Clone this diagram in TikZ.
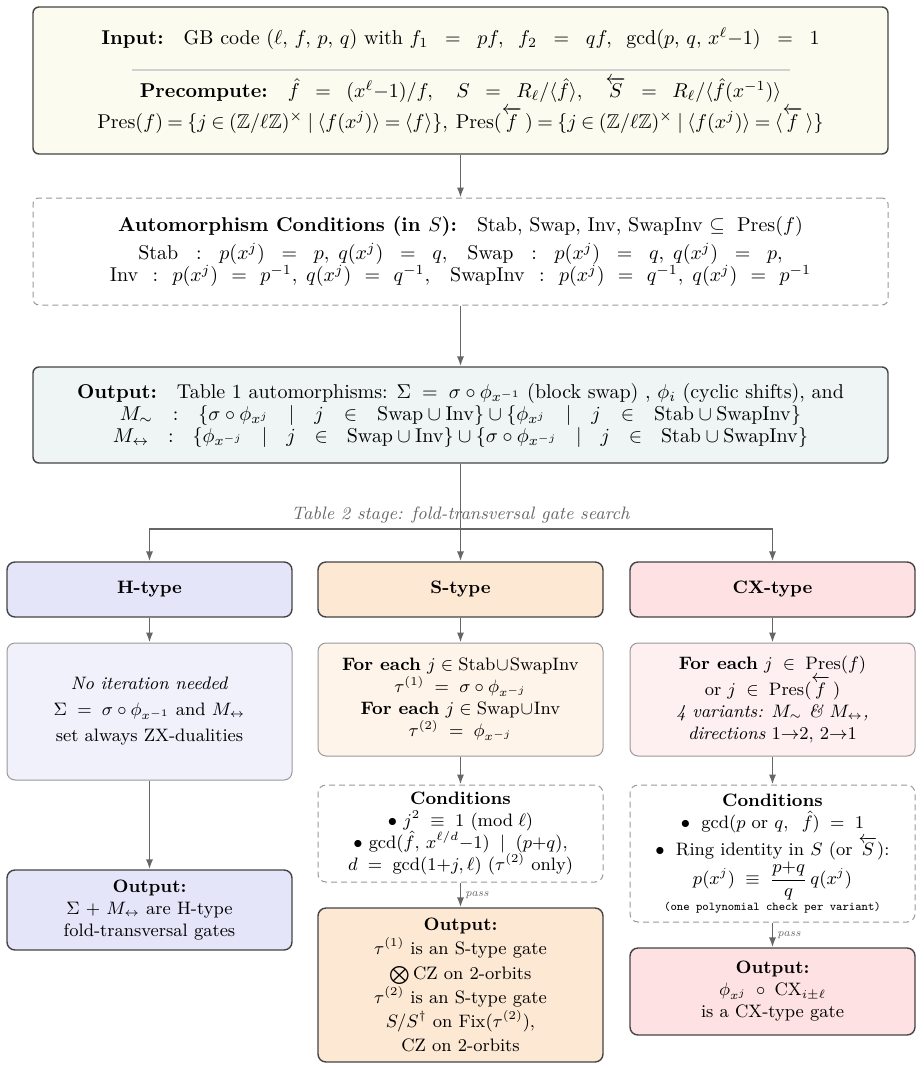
\documentclass[tikz,border=0pt]{standalone}
\usepackage{amsmath,amssymb}
\usetikzlibrary{arrows.meta,calc}
\newcommand{\myg}[1]{\mkern#1mu}
\definecolor{topfill}{HTML}{FBFBF0}
\definecolor{outfill}{HTML}{EEF5F4}
\definecolor{hhead}{HTML}{E5E5FA}
\definecolor{hbody}{HTML}{F1F1FC}
\definecolor{shead}{HTML}{FDE8D4}
\definecolor{sbody}{HTML}{FEF4EA}
\definecolor{cxhead}{HTML}{FDE1E3}
\definecolor{cxbody}{HTML}{FEF0F1}
\definecolor{darkbd}{HTML}{444444}
\definecolor{lightbd}{HTML}{999999}
\definecolor{arrowc}{HTML}{666666}
\tikzset{
  mainbox/.style={draw=darkbd, line width=0.7pt, rounded corners=3pt, align=flush center,
    minimum width=427.5pt, text width=420pt, inner sep=0pt, font=\fontsize{10}{12}\selectfont},
  dashbox/.style={draw=lightbd, line width=0.5pt, dash pattern=on 3pt off 2pt, rounded corners=3pt,
    fill=white, align=flush center, minimum width=427.5pt, text width=420pt, inner sep=0pt,
    font=\fontsize{10}{12}\selectfont},
  headbox/.style={draw=darkbd, line width=0.7pt, rounded corners=4pt, align=flush center,
    minimum width=142.5pt, minimum height=27.5pt, text width=138pt, inner sep=0pt,
    font=\small\bfseries},
  bodybox/.style={draw=lightbd, line width=0.5pt, rounded corners=4pt, align=flush center,
    minimum width=142.5pt, text width=138pt, inner sep=0pt, font=\small},
  condbox/.style={draw=lightbd, line width=0.5pt, dash pattern=on 3pt off 2pt, rounded corners=4pt,
    fill=white, align=flush center, minimum width=142.5pt, text width=138pt, inner sep=0pt, font=\small},
  resbox/.style={draw=darkbd, line width=0.7pt, rounded corners=4pt, align=flush center,
    minimum width=142.5pt, text width=138pt, inner sep=0pt, font=\small},
  flow/.style={draw=arrowc, line width=0.8pt, -{Latex[length=5pt,width=3.6pt]}},
  passlbl/.style={font=\fontsize{5.5}{6}\selectfont\itshape, text=arrowc, inner sep=2pt, anchor=west},
  stagelbl/.style={font=\small\itshape, text=arrowc, inner sep=0pt},
  sepline/.style={draw=black!18, line width=0.6pt}
}
\begin{document}
\begin{tikzpicture}[x=0.5pt,y=-0.5pt]
\useasboundingbox (0,0) rectangle (923,1070);

% top box
\node[mainbox, fill=topfill, minimum height=73.5pt] (top) at (460.5,80.5) {%
\textbf{Input:}\quad GB code $(\ell,\,f,\,p,\,q)$ with $f_1 \myg{10}=\myg{10} pf,\;\; f_2 \myg{10}=\myg{10} qf,\;\; \gcd(p,\,q,\,x^{\ell}{-}1) \myg{10}=\myg{10} 1$\\[12.5pt]
\textbf{Precompute:}\quad $\hat f \myg{9}=\myg{9} (x^{\ell}{-}1)/f,\quad S \myg{9}=\myg{9} R_\ell/\langle \hat f\rangle,\quad \overleftarrow{S} \myg{9}=\myg{9} R_\ell/\langle \hat f(x^{-1})\rangle$\\[1pt]
$\thickmuskip=4mu \mathrm{Pres}(f) = \{j \in (\mathbb{Z}/\ell\mathbb{Z})^{\times} \mid \langle f(x^j)\rangle = \langle f\rangle\},\; \mathrm{Pres}(\overleftarrow{f}\,) = \{j \in (\mathbb{Z}/\ell\mathbb{Z})^{\times} \mid \langle f(x^j)\rangle = \langle \overleftarrow{f}\,\rangle\}$};
\draw[sepline] (132,70) -- (790,70);

% automorphism conditions
\node[dashbox, minimum height=53.5pt] (auto) at (460.5,251.5) {%
\textbf{Automorphism Conditions (in $S$):}\quad Stab, Swap, Inv, SwapInv $\subseteq\;$ Pres$(f)$\\[2pt]
Stab $\myg{10}:\myg{10}$ $p(x^j) \myg{10}=\myg{10} p,\; q(x^j) \myg{10}=\myg{10} q,$\quad Swap $\myg{10}:\myg{10}$ $p(x^j) \myg{10}=\myg{10} q,\; q(x^j) \myg{10}=\myg{10} p,$\\[-1pt]
Inv $\myg{7}:\myg{7}$ $p(x^j) \myg{7}=\myg{7} p^{-1},\; q(x^j) \myg{7}=\myg{7} q^{-1},$\quad SwapInv $\myg{7}:\myg{7}$ $p(x^j) \myg{7}=\myg{7} q^{-1},\; q(x^j) \myg{7}=\myg{7} p^{-1}$};

% output table 1
\node[mainbox, fill=outfill, minimum height=48pt] (out) at (460.5,415) {%
\textbf{Output:}\quad Table 1 automorphisms: $\Sigma \;=\; \sigma\circ\phi_{x^{-1}}$ (block swap) , $\phi_i$ (cyclic shifts), and\\[-1pt]
$M_\sim \myg{13}:\myg{13} \{\sigma\circ\phi_{x^j} \myg{13}\mid\myg{13} j \myg{13}\in\myg{13} \mathrm{Swap}\cup\mathrm{Inv}\} \cup \{\phi_{x^j} \myg{13}\mid\myg{13} j\myg{13}\in\myg{13} \mathrm{Stab}\cup\mathrm{SwapInv}\}$\\[-1pt]
$M_\leftrightarrow \myg{12}:\myg{12} \{\phi_{x^{-j}} \myg{12}\mid\myg{12} j \myg{12}\in\myg{12} \mathrm{Swap}\cup\mathrm{Inv}\} \cup \{\sigma\circ\phi_{x^{-j}} \myg{12}\mid\myg{12} j \myg{12}\in\myg{12} \mathrm{Stab}\cup\mathrm{SwapInv}\}$};

% headers
\node[headbox, fill=hhead] (hh) at (149.5,589.5) {H-type};
\node[headbox, fill=shead] (sh) at (460.5,589.5) {S-type};
\node[headbox, fill=cxhead] (ch) at (772.5,589.5) {CX-type};

% bodies
\node[bodybox, fill=hbody, minimum height=68.5pt] (hb) at (149.5,711.5) {%
\textit{No iteration needed}\\[2pt]
$\Sigma \;=\; \sigma\circ\phi_{x^{-1}}$ and $M_\leftrightarrow$\\[2pt]
set always ZX-dualities};
\node[bodybox, fill=sbody, minimum height=56.5pt] (sb) at (460.5,699.5) {%
\textbf{For each} $j\in\mathrm{Stab}\!\cup\!\mathrm{SwapInv}$\\
$\tau^{(1)} \;=\; \sigma\circ\phi_{x^{-j}}$\\
\textbf{For each} $j\in\mathrm{Swap}\!\cup\!\mathrm{Inv}$\\
$\tau^{(2)} \;=\; \phi_{x^{-j}}$};
\node[bodybox, fill=cxbody, minimum height=56.5pt] (cb) at (772.5,699.5) {%
\textbf{For each} $j \;\in\; \mathrm{Pres}(f)$\\
or $j \;\in\; \mathrm{Pres}(\overleftarrow{f}\,)$\\
\textit{4 variants: $M_\sim$ \& $M_\leftrightarrow$,}\\
\textit{directions} $1{\to}2$, $2{\to}1$};

% conditions
\node[condbox, minimum height=48.5pt] (sc) at (460.5,833.5) {%
\textbf{Conditions}\\
$\bullet$~$j^2 \;\equiv\; 1$ $(\mathrm{mod}\;\ell)$\\
$\bullet$~$\gcd(\hat f,\,x^{\ell/d}{-}1) \;\mid\; (p{+}q)$,\\
$d \;=\; \gcd(1{+}j,\ell)$ ($\tau^{(2)}$ only)};
\node[condbox, minimum height=68.5pt] (cc) at (772.5,853.5) {%
\textbf{Conditions}\\
$\bullet$\; $\gcd(p \text{ or } q,\;\; \hat f) \;=\; 1$\\[1pt]
$\bullet$\; Ring identity in $S$ (or $\overleftarrow{S}$):\\
$p(x^j) \;\equiv\; \dfrac{p{+}q}{q}\,q(x^j)$\\
{\ttfamily\fontsize{6}{7}\selectfont (one polynomial check per variant)}};

% outputs
\node[resbox, fill=hhead, minimum height=40pt] (ho) at (149.5,910) {%
\textbf{Output:}\\
$\Sigma$ + $M_\leftrightarrow$ are H-type\\
fold-transversal gates};
\node[resbox, fill=shead, minimum height=77pt] (so) at (460.5,985) {%
\textbf{Output:}\\[1pt]
$\tau^{(1)}$ is an S-type gate\\[1.5pt]
$\bigotimes$\,CZ on 2-orbits\\[1pt]
$\tau^{(2)}$ is an S-type gate\\[1pt]
$S/S^{\dagger}$ on Fix$(\tau^{(2)})$,\\[1pt]
CZ on 2-orbits};
\node[resbox, fill=cxhead, minimum height=43.5pt] (co) at (772.5,991.5) {%
\textbf{Output:}\\
$\phi_{x^j} \;\circ\; \mathrm{CX}_{i\pm\ell}$\\
is a CX-type gate};

% stage label and connectors
\node[stagelbl] (stage) at (460.5,515) {Table 2 stage: fold-transversal gate search};
\coordinate (split) at (460.5,529);

\draw[flow] (top) -- (auto);
\draw[flow] (auto) -- (out);
\draw[flow] (out) -- (sh);
\draw[flow] (split) -| (hh);
\draw[flow] (split) -| (ch);

\draw[flow] (hh) -- (hb);
\draw[flow] (sh) -- (sb);
\draw[flow] (ch) -- (cb);

\draw[flow] (hb) -- (ho);
\draw[flow] (sb) -- (sc);
\draw[flow] (cb) -- (cc);

\draw[flow] (sc) -- node[passlbl] {pass} (so);
\draw[flow] (cc) -- node[passlbl] {pass} (co);
\end{tikzpicture}
\end{document}
